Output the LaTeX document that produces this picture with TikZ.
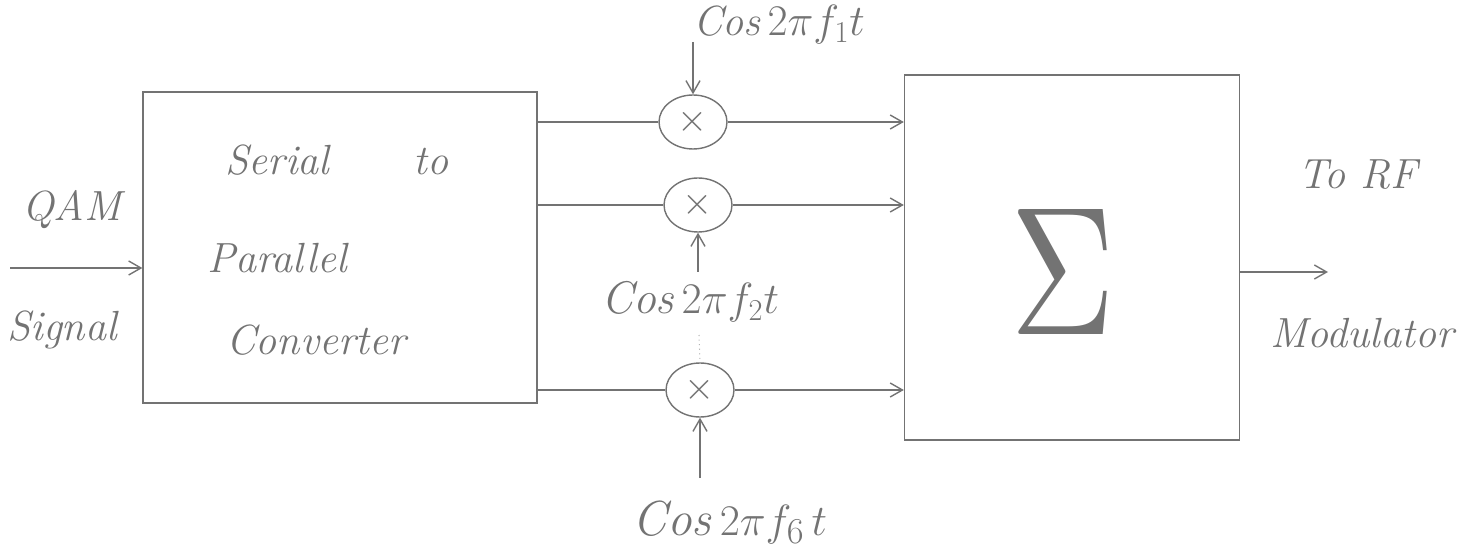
\documentclass[tikz,border=0pt]{standalone}
\usetikzlibrary{shapes.geometric,arrows.meta}
\begin{document}
\begin{tikzpicture}[x=0.02cm,y=-0.02cm,
  ink/.style={draw=black!55,line width=0.8pt},
  hand/.style={text=black!55,font=\fontsize{24}{28}\selectfont\itshape},
  cosl/.style={text=black!55,font=\fontsize{24}{28}\selectfont\itshape},
  mult/.style={ink,ellipse,minimum width=1.36cm,minimum height=1.08cm,inner sep=0pt,text=black!55},
  blk/.style={ink,rectangle,inner sep=0pt},
  arr/.style={ink,-{Straight Barb[length=7pt,width=8pt]}}]
\useasboundingbox (0,0) rectangle (1476,560);
% blocks
\node[blk,minimum width=7.88cm,minimum height=6.22cm] (sp) at (340,247.5) {};
\node[hand] at (337,160) {Serial\hspace{2em}to};
\node[hand] at (277,258) {Parallel};
\node[hand] at (316,340) {Converter};
\node[blk,minimum width=6.7cm,minimum height=7.3cm] (sum) at (1072,257.5) {};
\node[text=black!55] at (1063,272) {\resizebox{2.1cm}{2.5cm}{$\Sigma$}};
% multipliers
\node[mult] (m1) at (693,122) {\scalebox{2.2}{$\times$}};
\node[mult] (m2) at (698,205) {\scalebox{2.2}{$\times$}};
\node[mult] (m3) at (700,390) {\scalebox{2.2}{$\times$}};
% input
\coordinate (in) at (10,268);
\draw[arr] (in) -- (sp.west |- in);
\node[hand] at (72,210) {QAM};
\node[hand] at (62,330) {Signal};
% box to multipliers
\draw[ink] (sp.east |- m1) -- (m1.west);
\draw[ink] (sp.east |- m2) -- (m2.west);
\draw[ink] (sp.east |- m3) -- (m3.west);
% multipliers to sum
\draw[arr] (m1.east) -- (sum.west |- m1);
\draw[arr] (m2.east) -- (sum.west |- m2);
\draw[arr] (m3.east) -- (sum.west |- m3);
% carriers
\coordinate (c1) at (693,42);
\draw[arr] (c1) -- (m1.north);
\node[cosl] at (779,25) {Cos\,$2\pi f_1 t$};
\coordinate (c2) at (698,272);
\draw[arr] (c2) -- (m2.south);
\node[cosl,font=\fontsize{26}{30}\selectfont\itshape] at (690,302) {Cos\,$2\pi f_2 t$};
\coordinate (d1) at (699,335);
\draw[draw=black!30,line width=0.6pt,dotted] (d1) -- (m3.north);
\coordinate (c3) at (700,478);
\draw[arr] (c3) -- (m3.south);
\node[cosl,font=\fontsize{28}{32}\selectfont\itshape] at (730,522) {Cos\,$2\pi f_6\, t$};
% output
\coordinate (out) at (1328,272);
\draw[arr] (sum.east |- out) -- (out);
\node[hand] at (1358,175) {To RF};
\node[hand] at (1362,333) {Modulator};
\end{tikzpicture}
\end{document}
